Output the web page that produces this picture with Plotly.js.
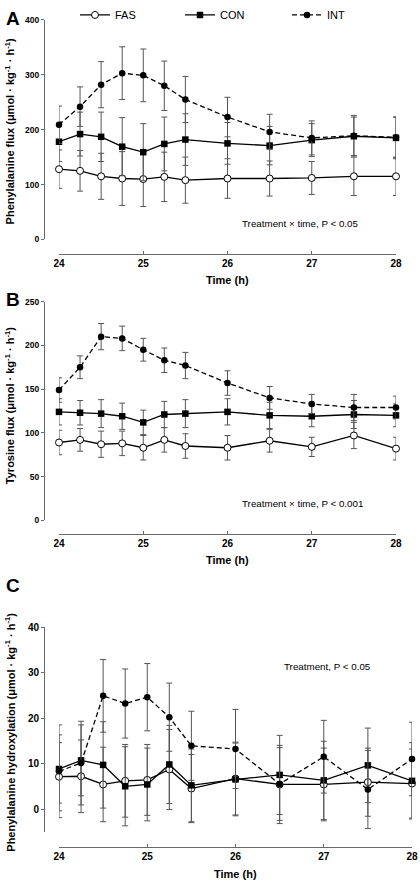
<!DOCTYPE html>
<html><head><meta charset="utf-8">
<script src="https://cdn.plot.ly/plotly-3.0.1.min.js"></script>
<style>html,body{margin:0;padding:0;background:#fff}#chart{width:420px;height:883px}</style>
</head><body><div id="chart"></div>
<script>
// ---------- data ----------
const times = [24, 24.25, 24.5, 24.75, 25, 25.25, 25.5, 26, 26.5, 27, 27.5, 28];
const groups = ["FAS", "CON", "INT"];
const xTicks = [24, 25, 26, 27, 28];

// Panel A: phenylalanine flux
const pheFAS   = [128, 125, 115, 111, 110, 114, 108, 111, 111, 112, 115, 115];
const pheFASsd = [35, 37, 42, 49, 50, 45, 42, 36, 32, 30, 35, 35];
const pheCON   = [178, 192, 187, 169, 159, 174, 182, 175, 171, 181, 188, 185];
const pheCONsd = [36, 40, 45, 53, 52, 49, 47, 38, 35, 30, 35, 38];
const pheINT   = [209, 242, 282, 303, 299, 280, 255, 223, 196, 185, 189, 186];
const pheINTsd = [34, 36, 42, 48, 48, 45, 42, 36, 32, 31, 37, 37];

// Panel B: tyrosine flux
const tyrFAS   = [89, 92, 87, 88, 83, 92, 85, 83, 91, 84, 97, 82];
const tyrFASsd = [14, 13, 15, 14, 14, 14, 14, 14, 13, 11, 15, 13];
const tyrCON   = [124, 123, 122, 119, 112, 121, 122, 124, 120, 119, 121, 120];
const tyrCONsd = [15, 14, 16, 15, 14, 15, 16, 15, 15, 12, 16, 13];
const tyrINT   = [149, 175, 210, 208, 195, 183, 177, 157, 140, 133, 129, 129];
const tyrINTsd = [14, 13, 15, 14, 13, 14, 15, 14, 13, 11, 15, 13];

// Panel C: phenylalanine hydroxylation
const hydFAS   = [7.1, 7.2, 5.4, 6.2, 6.4, 8.7, 4.5, 6.7, 5.4, 5.4, 5.9, 5.6];
const hydFASsd = [7.5, 8, 8.2, 8, 7.8, 8.8, 7.5, 8, 8.6, 8, 7.5, 7.6];
const hydCON   = [8.8, 10.7, 9.7, 5.0, 5.4, 9.8, 5.2, 6.5, 7.5, 6.3, 9.6, 6.2];
const hydCONsd = [7.5, 7.8, 9.5, 8.7, 8, 8.6, 8, 8, 8.7, 8.6, 8.2, 8.4];
const hydINT   = [8.3, 10.1, 24.9, 23.2, 24.6, 20.2, 13.9, 13.2, 5.5, 11.5, 4.3, 11.0];
const hydINTsd = [10.2, 9.2, 8, 7.6, 7.4, 7.5, 7.6, 8.7, 8, 8, 8.6, 8.1];

const yTitles = [
  "Phenylalanine flux (μmol · kg<sup>-1</sup> · h<sup>-1</sup>)",
  "Tyrosine flux (μmol · kg<sup>-1</sup> · h<sup>-1</sup>)",
  "Phenylalanine hydroxylation (μmol · kg<sup>-1</sup> · h<sup>-1</sup>)"
];
const statNotes = ["Treatment × time, P < 0.05", "Treatment × time, P < 0.001", "Treatment, P < 0.05"];
const panelLetters = ["A", "B", "C"];
const xTitle = "Time (h)";

// ---------- styling / layout ----------
const W = 420, H = 883;
const fx = v => v / W;
const fy = v => 1 - v / H;
const FONT = "Liberation Sans, Arial, Helvetica, sans-serif";
const AXC = "#6a6a6a";
const ERRC = "#555555";

const styles = {
  FAS: {marker: {symbol: "circle", size: 7, color: "#ffffff", line: {color: "#000", width: 1}}, line: {color: "#000", width: 1.3}},
  CON: {marker: {symbol: "square", size: 6.5, color: "#000"}, line: {color: "#000", width: 1.3}},
  INT: {marker: {symbol: "circle", size: 6.5, color: "#000"}, line: {color: "#000", width: 1.3, dash: "5px,3px"}}
};

function mk(name, y, sd, xa, ya, legendId) {
  return {
    type: "scatter", mode: "lines+markers", name: name,
    x: times, y: y, xaxis: xa, yaxis: ya,
    error_y: {type: "data", array: sd, visible: true, color: ERRC, thickness: 1, width: 3},
    marker: styles[name].marker, line: styles[name].line,
    cliponaxis: false,
    showlegend: !!legendId, legend: legendId || "legend"
  };
}

const data = [
  mk("FAS", pheFAS, pheFASsd, "x", "y", "legend"),
  mk("CON", pheCON, pheCONsd, "x", "y", "legend2"),
  mk("INT", pheINT, pheINTsd, "x", "y", "legend3"),
  mk("FAS", tyrFAS, tyrFASsd, "x2", "y2"),
  mk("CON", tyrCON, tyrCONsd, "x2", "y2"),
  mk("INT", tyrINT, tyrINTsd, "x2", "y2"),
  mk("FAS", hydFAS, hydFASsd, "x3", "y3"),
  mk("CON", hydCON, hydCONsd, "x3", "y3"),
  mk("INT", hydINT, hydINTsd, "x3", "y3")
];

function xAx(left, right, axisY) {
  return {domain: [fx(left), fx(right)], range: [24, 28], anchor: "free", position: fy(axisY),
    showline: true, linecolor: AXC, linewidth: 1, ticks: "inside", ticklen: 3, tickcolor: AXC,
    tickvals: xTicks, showgrid: false, zeroline: false,
    tickfont: {family: FONT, size: 10, color: "#000", weight: "bold"}};
}
function yAx(top, bottom, range, dtick, fs) {
  return {domain: [fy(bottom), fy(top)], range: range, anchor: "free", position: fx(44),
    showline: true, linecolor: AXC, linewidth: 1, ticks: "outside", ticklen: 3, tickcolor: AXC,
    dtick: dtick, tick0: 0, showgrid: false, zeroline: false,
    tickfont: {family: FONT, size: fs, color: "#000", weight: "bold"}};
}

const ann = [];
// panel letters
[[4, 15], [4, 297], [4, 584]].forEach((p, i) => ann.push({xref: "paper", yref: "paper", x: fx(p[0]), y: fy(p[1]),
  xanchor: "left", yanchor: "middle", showarrow: false, text: "<b>" + panelLetters[i] + "</b>",
  font: {family: FONT, size: 19, color: "#000"}}));
// y titles
[128, 404, 732].forEach((c, i) => ann.push({xref: "paper", yref: "paper", x: fx(10), y: fy(c),
  xanchor: "center", yanchor: "middle", textangle: -90, showarrow: false, text: "<b>" + yTitles[i] + "</b>",
  font: {family: FONT, size: 11, color: "#000"}}));
// x titles
[[227, 277], [227, 559], [235, 874]].forEach(p => ann.push({xref: "paper", yref: "paper", x: fx(p[0]), y: fy(p[1]),
  xanchor: "center", yanchor: "middle", showarrow: false, text: "<b>" + xTitle + "</b>",
  font: {family: FONT, size: 11, color: "#000"}}));
// statistics notes
[[300, 220], [302, 502], [327, 666]].forEach((p, i) => ann.push({xref: "paper", yref: "paper", x: fx(p[0]), y: fy(p[1]),
  xanchor: "center", yanchor: "middle", showarrow: false, text: statNotes[i],
  font: {family: FONT, size: 9.8, color: "#000"}}));

function leg(x) {
  return {x: fx(x), xanchor: "left", y: fy(11), yanchor: "middle", orientation: "h",
    font: {family: FONT, size: 11, color: "#000"}, bgcolor: "rgba(0,0,0,0)", borderwidth: 0};
}

const layout = {
  width: W, height: H, margin: {l: 0, r: 0, t: 0, b: 0},
  paper_bgcolor: "#fff", plot_bgcolor: "rgba(0,0,0,0)",
  font: {family: FONT, color: "#000"},
  xaxis: xAx(59, 396, 250.7),
  yaxis: yAx(16, 236.5, [0, 400], 100, 8.5),
  xaxis2: xAx(59, 396, 532.7),
  yaxis2: yAx(299, 518.7, [0, 250], 50, 8.5),
  xaxis3: xAx(59, 412, 846.7),
  yaxis3: yAx(626, 831.5, [-5, 40], 10, 10),
  legend: leg(75), legend2: leg(180), legend3: leg(287),
  annotations: ann
};

Plotly.newPlot("chart", data, layout, {staticPlot: true, displayModeBar: false});
</script></body></html>
